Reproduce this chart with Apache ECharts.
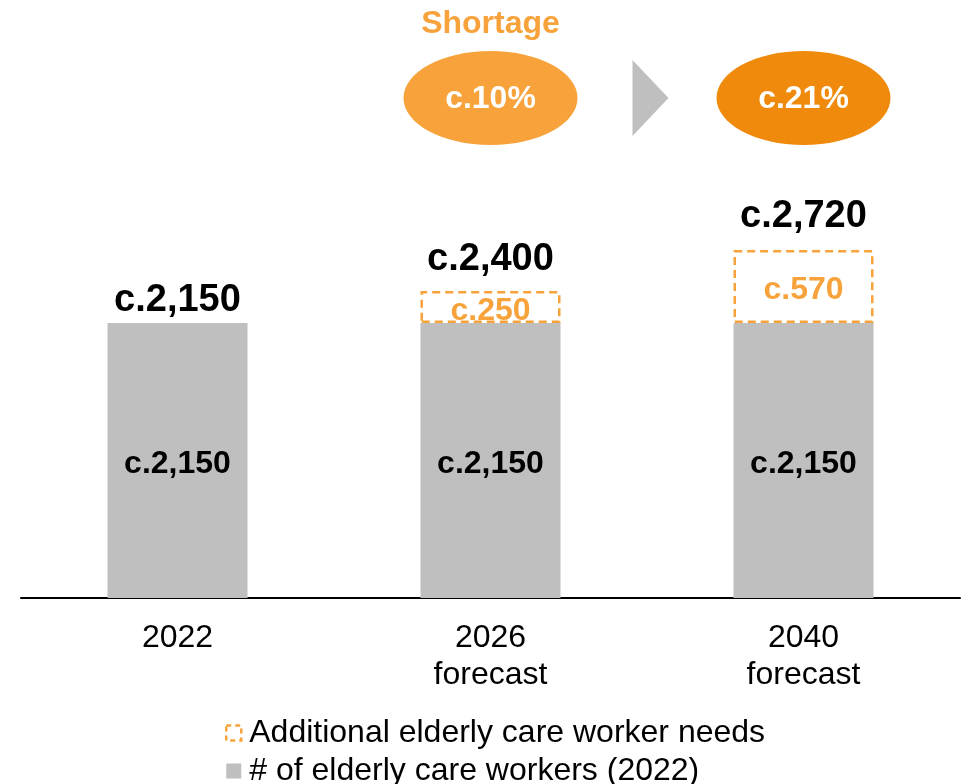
<!DOCTYPE html>
<html>
<head>
<meta charset="utf-8">
<style>
  html, body { margin: 0; padding: 0; background: #ffffff; }
  #chart { width: 964px; height: 784px; }
</style>
<script src="https://cdn.jsdelivr.net/npm/echarts@6/dist/echarts.min.js"></script>
</head>
<body>
<div id="chart"></div>
<script>
// Elderly care workforce: current headcount vs. projected needs (thousands)
const categories = ['2022', '2026\nforecast', '2040\nforecast'];
const currentWorkers = [2150, 2150, 2150];
const additionalNeeds = ['-', 250, 570];
const totalNeeds = [2150, 2400, 2720];
const shortageRates = ['c.10%', 'c.21%'];   // shown above the 2026 and 2040 columns
const seriesNames = ['Additional elderly care worker needs', '# of elderly care workers (2022)'];

const FONT = 'Arial, "Liberation Sans", Helvetica, sans-serif';
const GREY = '#BFBFBF';
const ORANGE = '#F7A23A';
const ORANGE_DARK = '#F08A0C';

// space between the total label and the top of each column
const totalLabelGap = [3, 12, 14];

const fmt = v => 'c.' + v.toLocaleString('en-US');

const totalLabel = {
  show: true,
  position: 'top',
  formatter: p => fmt(p.value),
  fontFamily: FONT,
  fontSize: 38,
  fontWeight: 'bold',
  color: '#000000',
  opacity: 1
};

const chart = echarts.init(document.getElementById('chart'));

chart.setOption({
  animation: false,
  backgroundColor: '#ffffff',
  textStyle: { fontFamily: FONT },
  grid: { left: 21, right: 4, top: 86.4, bottom: 186, containLabel: false },
  legend: {
    orient: 'vertical',
    left: 225,
    top: 717,
    height: 80,
    padding: 0,
    itemWidth: 15,
    itemHeight: 15,
    itemGap: 6,
    icon: 'rect',
    textStyle: { fontFamily: FONT, fontSize: 32, color: '#000', padding: [0, 0, 0, 3] },
    data: [
      {
        name: seriesNames[0],
        icon: 'rect',
        itemStyle: { color: 'transparent', borderColor: ORANGE, borderWidth: 2.5, borderType: [5, 4] }
      },
      { name: seriesNames[1], icon: 'rect', itemStyle: { color: GREY } }
    ]
  },
  xAxis: {
    type: 'category',
    data: categories,
    axisLine: { show: true, lineStyle: { color: '#000', width: 2 } },
    axisTick: { show: false },
    axisLabel: {
      margin: 22,
      fontFamily: FONT,
      fontSize: 32,
      lineHeight: 37,
      color: '#000'
    }
  },
  yAxis: { type: 'value', min: 0, max: 4000, show: false },
  series: [
    {
      name: seriesNames[1],
      type: 'bar',
      stack: 'workers',
      barWidth: 140,
      data: currentWorkers,
      itemStyle: { color: GREY },
      label: {
        show: true,
        position: 'inside',
        offset: [0, 4],
        formatter: p => fmt(p.value),
        fontFamily: FONT,
        fontSize: 32,
        fontWeight: 'bold',
        color: '#000'
      }
    },
    {
      name: seriesNames[0],
      type: 'bar',
      stack: 'workers',
      barWidth: 140,
      data: additionalNeeds,
      itemStyle: {
        color: 'transparent',
        borderColor: ORANGE,
        borderWidth: 2.5,
        borderType: [8, 5]
      },
      label: {
        show: true,
        position: 'inside',
        offset: [0, 4],
        formatter: p => fmt(p.value),
        fontFamily: FONT,
        fontSize: 32,
        fontWeight: 'bold',
        color: ORANGE
      }
    },
    {
      name: 'total',
      type: 'scatter',
      symbolSize: 1,
      itemStyle: { color: 'transparent', opacity: 1 },
      silent: true,
      data: totalNeeds.map((v, i) => ({
        value: v,
        label: Object.assign({}, totalLabel, { distance: totalLabelGap[i] })
      })),
      label: totalLabel
    }
  ]
});

// Shortage ovals and arrow, anchored on the forecast columns
const x2026 = chart.convertToPixel({ xAxisIndex: 0 }, categories[1]);
const x2040 = chart.convertToPixel({ xAxisIndex: 0 }, categories[2]);
const ovalY = 98;
const ovalRx = 87;
const ovalRy = 47;
const arrowLeft = x2026 + 142;
const ovalColors = [ORANGE, ORANGE_DARK];

const graphics = [
  {
    type: 'text',
    x: x2026,
    y: 24,
    style: {
      text: 'Shortage',
      fill: ORANGE,
      font: 'bold 32px ' + FONT,
      textAlign: 'center',
      textVerticalAlign: 'middle'
    }
  },
  {
    type: 'polygon',
    shape: { points: [[arrowLeft, 60], [arrowLeft + 36, ovalY], [arrowLeft, 136]] },
    style: { fill: GREY }
  }
];

[x2026, x2040].forEach((cx, i) => {
  graphics.push({
    type: 'ellipse',
    shape: { cx: cx, cy: ovalY, rx: ovalRx, ry: ovalRy },
    style: { fill: ovalColors[i] }
  });
  graphics.push({
    type: 'text',
    x: cx,
    y: ovalY + 1,
    style: {
      text: shortageRates[i],
      fill: '#ffffff',
      font: 'bold 32px ' + FONT,
      textAlign: 'center',
      textVerticalAlign: 'middle'
    }
  });
});

chart.setOption({ graphic: graphics });
</script>
</body>
</html>
